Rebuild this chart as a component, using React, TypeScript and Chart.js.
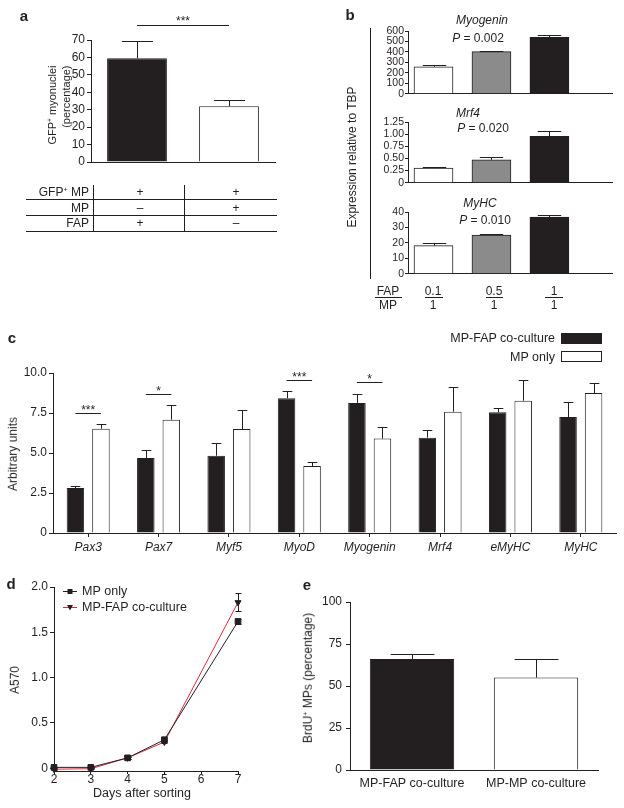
import React, { useEffect, useRef } from 'react';
import { Chart, registerables } from 'chart.js';

Chart.register(...registerables);

const INK = '#231f20';
const RED = '#e2263a';
const GRAY = '#8b8b8b';
const FONT = '"Liberation Sans", Arial, Helvetica, sans-serif';
Chart.defaults.font.family = FONT;
Chart.defaults.font.size = 12;
Chart.defaults.color = INK;

// ---------------- Panel a ----------------
const aGroups = ['GFP+ MP + FAP', 'GFP+ MP + MP'];
const aValues = [59.5, 32.0];
const aErrors = [9.9, 3.3];
const aSigLevel = [78.6];
const aSigLabel = ['***'];
const aRowLabels = ['GFP⁺ MP', 'MP', 'FAP'];
const aColFAP = ['+', '–', '+'];
const aColMP = ['+', '+', '–'];

// ---------------- Panel b ----------------
const bFAP = ['0.1', '0.5', '1'];
const bMP = ['1', '1', '1'];
const bGenes = ['Myogenin', 'Mrf4', 'MyHC'];
const bPValues = ['0.002', '0.020', '0.010'];
const bMyogenin = [258, 403, 539];
const bMyogeninErr = [15, 10, 24];
const bMrf4 = [0.3, 0.47, 0.955];
const bMrf4Err = [0.02, 0.05, 0.115];
const bMyHC = [18.2, 25.1, 36.7];
const bMyHCErr = [2.0, 0.7, 1.6];

// ---------------- Panel c ----------------
const cGenes = ['Pax3', 'Pax7', 'Myf5', 'MyoD', 'Myogenin', 'Mrf4', 'eMyHC', 'MyHC'];
const cSeries = ['MP-FAP co-culture', 'MP only'];
const cCoculture = [2.81, 4.69, 4.83, 8.42, 8.13, 5.96, 7.54, 7.25];
const cCocultureErr = [0.11, 0.52, 0.77, 0.48, 0.58, 0.5, 0.29, 0.94];
const cMPOnly = [6.52, 7.08, 6.5, 4.19, 5.9, 7.58, 8.27, 8.75];
const cMPOnlyErr = [0.27, 0.92, 1.21, 0.25, 0.7, 1.55, 1.29, 0.65];
const cSigIndex = [0, 1, 3, 4];
const cSigLevel = [7.5, 8.69, 9.56, 9.44];
const cSigLabel = ['***', '*', '***', '*'];

// ---------------- Panel d ----------------
const dDays = [2, 3, 4, 5, 7];
const dSeries = ['MP only', 'MP-FAP co-culture'];
const dMPOnly = [0.01, 0.01, 0.115, 0.315, 1.62];
const dMPOnlyErr = [0.005, 0.005, 0.01, 0.02, 0.03];
const dCoculture = [-0.01, -0.005, 0.115, 0.29, 1.83];
const dCocultureErr = [0.005, 0.005, 0.01, 0.015, 0.1];

// ---------------- Panel e ----------------
const eGroups = ['MP-FAP co-culture', 'MP-MP co-culture'];
const eValues = [66.1, 55.0];
const eErrors = [3.2, 11.3];

// ---------------- helpers ----------------
const fmt1 = (v: any) => (Number(v) === 0 ? '0' : Number(v).toFixed(1));
const fmt2 = (v: any) => (Number(v) === 0 ? '0' : Number(v).toFixed(2));
const fmt0 = (v: any) => String(v);

function yScale(
  min: number,
  max: number,
  step: number,
  width: number,
  tickLen: number,
  pad: number,
  fmt: any,
  fontSize = 12
) {
  return {
    min,
    max,
    ticks: {
      stepSize: step,
      padding: pad,
      color: INK,
      font: { size: fontSize },
      callback: fmt,
      includeBounds: false,
      autoSkip: false,
    },
    grid: { display: true, drawOnChartArea: false, drawTicks: true, tickLength: tickLen, color: INK, lineWidth: 1 },
    border: { display: true, color: INK, width: 1 },
    afterFit: (s: any) => {
      s.width = width;
    },
  };
}

const valOf = (raw: any) => (typeof raw === 'number' ? raw : raw.y);

function errorBars(errs: number[][], capRatio: number, symmetric = false, capPx = 0) {
  return {
    id: 'errorBars',
    afterDatasetsDraw(chart: any) {
      const { ctx } = chart;
      const ys = chart.scales.y;
      ctx.save();
      ctx.strokeStyle = INK;
      ctx.lineWidth = 1;
      errs.forEach((arr, di) => {
        const meta = chart.getDatasetMeta(di);
        meta.data.forEach((el: any, i: number) => {
          const v = valOf(chart.data.datasets[di].data[i]);
          const top = Math.round(ys.getPixelForValue(v + arr[i])) + 0.5;
          const bottom = symmetric ? Math.round(ys.getPixelForValue(v - arr[i])) + 0.5 : el.y;
          const w = capPx || el.width * capRatio;
          const x = Math.round(el.x) + 0.5;
          ctx.beginPath();
          ctx.moveTo(x, bottom);
          ctx.lineTo(x, top);
          ctx.moveTo(x - w / 2, top);
          ctx.lineTo(x + w / 2, top);
          if (symmetric) {
            ctx.moveTo(x - w / 2, bottom);
            ctx.lineTo(x + w / 2, bottom);
          }
          ctx.stroke();
        });
      });
      ctx.restore();
    },
  };
}

function sigLines(pairs: number[][], levels: number[], labels: string[], textShift: number) {
  return {
    id: 'sigLines',
    afterDraw(chart: any) {
      const { ctx } = chart;
      const ys = chart.scales.y;
      ctx.save();
      ctx.strokeStyle = INK;
      ctx.fillStyle = INK;
      ctx.lineWidth = 1;
      ctx.font = `12px ${FONT}`;
      ctx.textAlign = 'center';
      ctx.textBaseline = 'alphabetic';
      pairs.forEach(([d1, i1, d2, i2], k) => {
        const x1 = chart.getDatasetMeta(d1).data[i1].x;
        const x2 = chart.getDatasetMeta(d2).data[i2].x;
        const y = Math.round(ys.getPixelForValue(levels[k])) + 0.5;
        ctx.beginPath();
        ctx.moveTo(x1, y);
        ctx.lineTo(x2, y);
        ctx.stroke();
        ctx.fillText(labels[k], (x1 + x2) / 2, y + textShift);
      });
      ctx.restore();
    },
  };
}

const dLegend = {
  id: 'dLegend',
  afterDraw(chart: any) {
    const { ctx, chartArea } = chart;
    chart.data.datasets.forEach((ds: any, i: number) => {
      const y = Math.round(chartArea.top + 4 + i * 16) + 0.5;
      const x0 = chartArea.left + 9;
      ctx.save();
      ctx.strokeStyle = ds.borderColor;
      ctx.lineWidth = 1;
      ctx.beginPath();
      ctx.moveTo(x0, y);
      ctx.lineTo(x0 + 14, y);
      ctx.stroke();
      ctx.fillStyle = INK;
      const mx = x0 + 7;
      ctx.beginPath();
      if (ds.pointStyle === 'rect') {
        ctx.rect(mx - 2.5, y - 2.5, 5, 5);
      } else {
        ctx.moveTo(mx - 3, y - 2.5);
        ctx.lineTo(mx + 3, y - 2.5);
        ctx.lineTo(mx, y + 3);
        ctx.closePath();
      }
      ctx.fill();
      ctx.font = `12.5px ${FONT}`;
      ctx.textBaseline = 'middle';
      ctx.textAlign = 'left';
      ctx.fillText(ds.label, x0 + 19, y);
      ctx.restore();
    });
  },
};

const baseOpts = {
  animation: false,
  responsive: false,
  events: [],
  plugins: { legend: { display: false }, tooltip: { enabled: false } },
};

// ---------------- chart builders ----------------
function buildA() {
  return {
    type: 'bar',
    data: {
      labels: aGroups,
      datasets: [
        {
          data: aValues,
          backgroundColor: [INK, '#ffffff'],
          borderColor: INK,
          borderWidth: 1,
          categoryPercentage: 1,
          barPercentage: 0.65,
        },
      ],
    },
    options: {
      ...baseOpts,
      layout: { padding: { top: 40, right: 25, bottom: 7, left: 0 } },
      scales: {
        x: {
          ticks: { display: false },
          grid: { display: false, drawTicks: false },
          border: { display: true, color: INK },
          afterFit: (s: any) => {
            s.height = 6;
          },
        },
        y: yScale(0, 70, 10, 91, 4, 2, fmt0),
      },
    },
    plugins: [errorBars([aErrors], 0.52), sigLines([[0, 0, 0, 1]], aSigLevel, aSigLabel, -1)],
  };
}

function buildB(values: number[], errs: number[], max: number, step: number, fmt: any) {
  return () => ({
    type: 'bar',
    data: {
      datasets: [
        {
          data: values.map((v, i) => ({ x: i + 1, y: v })),
          backgroundColor: ['#ffffff', GRAY, INK],
          borderColor: INK,
          borderWidth: 1,
          barThickness: 39,
        },
      ],
    },
    options: {
      ...baseOpts,
      layout: { padding: { top: 8, right: 12, bottom: 4, left: 0 } },
      scales: {
        x: {
          type: 'linear',
          min: 0.56,
          max: 4.08,
          offset: false,
          ticks: { display: false },
          grid: { display: false, drawTicks: false },
          border: { display: true, color: INK },
          afterFit: (s: any) => {
            s.height = 0;
          },
        },
        y: yScale(0, max, step, 48, 3, 1, fmt, 10.5),
      },
    },
    plugins: [errorBars([errs], 0.6)],
  });
}

function buildC() {
  return {
    type: 'bar',
    data: {
      labels: cGenes,
      datasets: [
        {
          label: cSeries[0],
          data: cCoculture,
          backgroundColor: INK,
          borderColor: INK,
          borderWidth: 1,
          categoryPercentage: 0.725,
          barPercentage: 0.686,
        },
        {
          label: cSeries[1],
          data: cMPOnly,
          backgroundColor: '#ffffff',
          borderColor: INK,
          borderWidth: 1,
          categoryPercentage: 0.725,
          barPercentage: 0.686,
        },
      ],
    },
    options: {
      ...baseOpts,
      layout: { padding: { top: 13, right: 8, bottom: 0, left: 0 } },
      scales: {
        x: {
          ticks: { font: { size: 12, style: 'italic' }, color: INK, padding: 3, autoSkip: false, maxRotation: 0 },
          grid: { display: true, drawOnChartArea: false, drawTicks: true, tickLength: 4, offset: false, color: INK },
          border: { display: true, color: INK },
          afterFit: (s: any) => {
            s.height = 30;
          },
        },
        y: yScale(0, 10, 2.5, 53, 4, 2, fmt1),
      },
    },
    plugins: [
      errorBars([cCocultureErr, cMPOnlyErr], 0.55),
      sigLines(
        cSigIndex.map((i) => [0, i, 1, i]),
        cSigLevel,
        cSigLabel,
        0
      ),
    ],
  };
}

function buildD() {
  const y: any = yScale(-0.03, 2, 0.5, 54, 4, 2, fmt1);
  y.afterBuildTicks = (s: any) => {
    s.ticks = s.ticks.filter((t: any) => t.value >= 0 && Math.abs(t.value * 2 - Math.round(t.value * 2)) < 1e-6);
  };
  return {
    type: 'line',
    data: {
      datasets: [
        {
          label: dSeries[0],
          data: dDays.map((d, i) => ({ x: d, y: dMPOnly[i] })),
          borderColor: INK,
          borderWidth: 1,
          pointStyle: 'rect',
          pointRadius: 4,
          pointBackgroundColor: INK,
          pointBorderColor: INK,
          tension: 0,
        },
        {
          label: dSeries[1],
          data: dDays.map((d, i) => ({ x: d, y: dCoculture[i] })),
          borderColor: RED,
          borderWidth: 1,
          pointStyle: 'triangle',
          pointRotation: 180,
          pointRadius: 3.5,
          pointBackgroundColor: INK,
          pointBorderColor: INK,
          tension: 0,
        },
      ],
    },
    options: {
      ...baseOpts,
      clip: false,
      layout: { padding: { top: 12, right: 12, bottom: 0, left: 0 } },
      scales: {
        x: {
          type: 'linear',
          min: 2,
          max: 7,
          ticks: { stepSize: 1, padding: 0, font: { size: 12, lineHeight: 1 }, color: INK },
          grid: { display: true, drawOnChartArea: false, drawTicks: true, tickLength: 3, color: INK },
          border: { display: true, color: INK },
          afterFit: (s: any) => {
            s.height = 20;
          },
        },
        y,
      },
    },
    plugins: [errorBars([dMPOnlyErr, dCocultureErr], 0, true, 6), dLegend],
  };
}

function buildE() {
  return {
    type: 'bar',
    data: {
      labels: eGroups,
      datasets: [
        {
          data: eValues,
          backgroundColor: [INK, '#ffffff'],
          borderColor: INK,
          borderWidth: 1,
          categoryPercentage: 1,
          barPercentage: 0.68,
        },
      ],
    },
    options: {
      ...baseOpts,
      layout: { padding: { top: 12, right: 26, bottom: 0, left: 0 } },
      scales: {
        x: {
          ticks: { font: { size: 12.5 }, color: INK, padding: 6, maxRotation: 0, autoSkip: false },
          grid: { display: false, drawTicks: false },
          border: { display: true, color: INK },
          afterFit: (s: any) => {
            s.height = 30;
          },
        },
        y: yScale(0, 100, 25, 50, 4, 4, fmt0),
      },
    },
    plugins: [errorBars([eErrors], 0.52)],
  };
}

// ---------------- components ----------------
function ChartCanvas({ x, y, w, h, build }: { x: number; y: number; w: number; h: number; build: () => any }) {
  const ref = useRef<HTMLCanvasElement | null>(null);
  useEffect(() => {
    if (!ref.current) return;
    const chart = new Chart(ref.current, build());
    return () => chart.destroy();
  }, []);
  return (
    <canvas
      ref={ref}
      width={w}
      height={h}
      style={{ position: 'absolute', left: x, top: y, width: w, height: h, display: 'block' }}
    />
  );
}

const Sup = () => <span style={{ fontSize: '0.6em', position: 'relative', top: '-0.55em' }}>+</span>;

function rich(text: string) {
  const parts = text.split('⁺');
  const out: any[] = [];
  parts.forEach((p, i) => {
    if (i > 0) out.push(<Sup key={'s' + i} />);
    out.push(<React.Fragment key={'t' + i}>{p}</React.Fragment>);
  });
  return out;
}

function T({ x, y, children, align = 'center', size = 12, italic = false, bold = false }: any) {
  const tx = align === 'center' ? '-50%' : align === 'right' ? '-100%' : '0';
  return (
    <div
      style={{
        position: 'absolute',
        left: x,
        top: y,
        transform: `translate(${tx},-50%)`,
        fontSize: size,
        fontStyle: italic ? 'italic' : 'normal',
        fontWeight: bold ? 'bold' : 'normal',
        whiteSpace: 'nowrap',
        lineHeight: 1,
        color: INK,
        filter: 'grayscale(1)',
      }}
    >
      {children}
    </div>
  );
}

function VText({ x, y, children, size = 12, align = 'center', lh = 1.2 }: any) {
  return (
    <div
      style={{
        position: 'absolute',
        left: x,
        top: y,
        transform: 'translate(-50%,-50%) rotate(-90deg)',
        fontSize: size,
        whiteSpace: 'nowrap',
        lineHeight: lh,
        textAlign: align,
        color: INK,
        filter: 'grayscale(1)',
      }}
    >
      {children}
    </div>
  );
}

function Line({ x, y, w = 1, h = 1 }: any) {
  return <div style={{ position: 'absolute', left: x, top: y, width: w, height: h, background: INK }} />;
}

export default function App() {
  const tableRowsY = [192, 208, 223];
  const bTitleY = [20, 113, 203];
  const bTitleX = [482, 468, 480];
  const bPY = [38, 128, 220];
  const bPX = [478, 483, 485];
  const bColX = [433, 494, 554];
  const bULine = [
    [425, 18],
    [486, 17],
    [545, 18],
  ];
  return (
    <div
      style={{
        position: 'absolute',
        left: 0,
        top: 0,
        width: 624,
        height: 808,
        overflow: 'hidden',
        background: '#fff',
        fontFamily: FONT,
        color: INK,
      }}
    >
      {/* panel letters */}
      <T x={24} y={15} size={15} bold>a</T>
      <T x={350} y={14} size={15} bold>b</T>
      <T x={12} y={337} size={15} bold>c</T>
      <T x={11} y={583} size={15} bold>d</T>
      <T x={307} y={584} size={15} bold>e</T>

      {/* ---- panel a ---- */}
      <ChartCanvas x={0} y={0} w={300} h={175} build={buildA} />
      <VText x={60} y={105} size={11} align="right" lh={1.27}>
        {rich('GFP⁺ myonuclei')}
        <br />
        (percentage)
      </VText>
      {aRowLabels.map((r, i) => (
        <T key={'r' + i} x={89} y={tableRowsY[i]} align="right">
          {rich(r)}
        </T>
      ))}
      {aColFAP.map((v, i) => (
        <T key={'f' + i} x={140} y={tableRowsY[i]}>
          {v}
        </T>
      ))}
      {aColMP.map((v, i) => (
        <T key={'m' + i} x={236} y={tableRowsY[i]}>
          {v}
        </T>
      ))}
      <Line x={26} y={199} w={251} />
      <Line x={26} y={215} w={251} />
      <Line x={26} y={231} w={251} />
      <Line x={93} y={185} h={46} />
      <Line x={184} y={185} h={46} />

      {/* ---- panel b ---- */}
      <Line x={370} y={28} h={251} />
      <VText x={352} y={157} size={12}>
        Expression relative to TBP
      </VText>
      <ChartCanvas x={360} y={23} w={264} h={78} build={buildB(bMyogenin, bMyogeninErr, 600, 100, fmt0)} />
      <ChartCanvas x={360} y={114} w={264} h={76} build={buildB(bMrf4, bMrf4Err, 1.25, 0.25, fmt2)} />
      <ChartCanvas x={360} y={204} w={264} h={77} build={buildB(bMyHC, bMyHCErr, 40, 10, fmt0)} />
      {bGenes.map((g, i) => (
        <T key={'g' + i} x={bTitleX[i]} y={bTitleY[i]} italic>
          {g}
        </T>
      ))}
      {bPValues.map((p, i) => (
        <T key={'p' + i} x={bPX[i]} y={bPY[i]}>
          <i>P</i> = {p}
        </T>
      ))}
      <T x={388} y={291}>FAP</T>
      <Line x={375} y={297} w={27} />
      <T x={388} y={305}>MP</T>
      {bFAP.map((v, i) => (
        <T key={'bf' + i} x={bColX[i]} y={291}>
          {v}
        </T>
      ))}
      {bULine.map(([x, w], i) => (
        <Line key={'bu' + i} x={x} y={297} w={w} />
      ))}
      {bMP.map((v, i) => (
        <T key={'bm' + i} x={bColX[i]} y={305}>
          {v}
        </T>
      ))}

      {/* ---- panel c ---- */}
      <ChartCanvas x={0} y={360} w={624} h={203} build={buildC} />
      <VText x={13} y={454} size={12}>
        Arbitrary units
      </VText>
      <T x={555} y={338} align="right" size={12.5}>
        {cSeries[0]}
      </T>
      <div style={{ position: 'absolute', left: 561, top: 333, width: 41, height: 11, background: INK }} />
      <T x={555} y={357} align="right" size={12.5}>
        {cSeries[1]}
      </T>
      <div
        style={{
          position: 'absolute',
          left: 561,
          top: 351,
          width: 41,
          height: 11,
          boxSizing: 'border-box',
          border: `1px solid ${INK}`,
          background: '#fff',
        }}
      />

      {/* ---- panel d ---- */}
      <ChartCanvas x={0} y={575} w={250} h={216} build={buildD} />
      <VText x={15} y={680} size={12}>
        A570
      </VText>
      <T x={142} y={793} size={12.5}>
        Days after sorting
      </T>

      {/* ---- panel e ---- */}
      <ChartCanvas x={300} y={590} w={324} h={210} build={buildE} />
      <VText x={308} y={678} size={12}>
        {rich('BrdU⁺ MPs (percentage)')}
      </VText>
    </div>
  );
}
